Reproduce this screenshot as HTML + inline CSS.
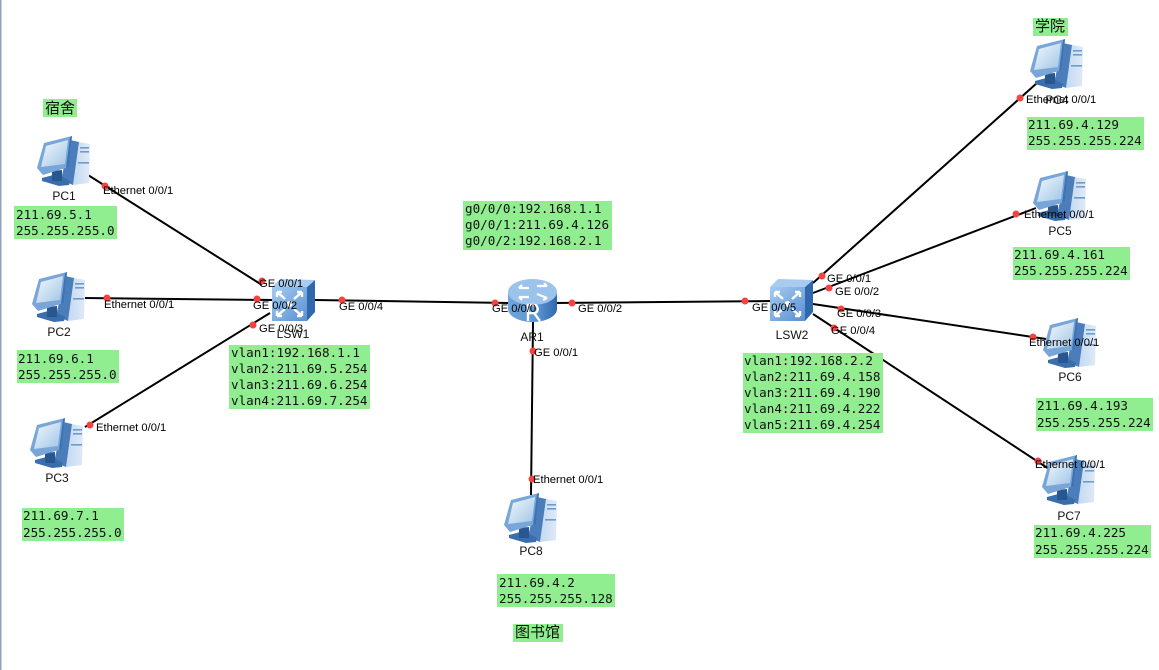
<!DOCTYPE html>
<html>
<head>
<meta charset="utf-8">
<style>
html,body{margin:0;padding:0;background:#fff;width:1159px;height:670px;overflow:hidden}
svg{display:block}
.l{font:11.2px "Liberation Sans",sans-serif;fill:#000}
.n{font:12px "Liberation Sans",sans-serif;fill:#111}
.m{font:12.6px "DejaVu Sans Mono","Liberation Mono",monospace;fill:#111}
.c{font:15px "Liberation Sans","Noto Sans CJK SC",sans-serif;fill:#111}
.g{fill:#90EE90}
.w{stroke:#000;stroke-width:2;fill:none}
.d{fill:#f5433f}
</style>
</head>
<body>
<svg width="1159" height="670" viewBox="0 0 1159 670" xmlns="http://www.w3.org/2000/svg">
<defs>
<linearGradient id="tw" x1="0" x2="1" y1="0" y2="0"><stop offset="0" stop-color="#c3d9f1"/><stop offset="1" stop-color="#dfeaf8"/></linearGradient>
<linearGradient id="sc" x1="0" x2="1" y1="0" y2="1"><stop offset="0" stop-color="#f4f9fd"/><stop offset="1" stop-color="#9fc4e6"/></linearGradient>
<linearGradient id="sw" x1="0" x2="1" y1="0" y2="1"><stop offset="0" stop-color="#a4cbf2"/><stop offset="1" stop-color="#5a90d0"/></linearGradient>
<linearGradient id="ro" x1="0" x2="1" y1="0" y2="0"><stop offset="0" stop-color="#6fa5dc"/><stop offset=".6" stop-color="#5b95d4"/><stop offset="1" stop-color="#2f68ad"/></linearGradient>
<symbol id="pc" viewBox="0 0 53 50" width="53" height="50" overflow="visible">
<polygon points="42,6 53,8 52,47 36,49" fill="url(#tw)"/>
<polygon points="33,4 42,6 36,49 24,44" fill="#4a7dba"/>
<rect x="43" y="11" width="9" height="1.600" fill="#6f9bca"/><rect x="43" y="15" width="9" height="1.600" fill="#6f9bca"/><rect x="41" y="26" width="11" height="1.600" fill="#6f9bca"/>
<polygon points="5,42 20,38 33,45 32,49 22,50 5,45" fill="#3a6dab"/>
<polygon points="15,35 25,34 25,45 15,45" fill="#28568f"/>
<polygon points="0,32 7,7 35,0 32,31 6,39" fill="#78a6d9"/>
<polygon points="33,1 35,0 32,31 29,32" fill="#3f74b4"/>
<polygon points="4,31 9,10 31,4 28,28" fill="url(#sc)"/>
</symbol>
<symbol id="sw1" viewBox="0 0 43 42" width="43" height="42" overflow="visible">
<polygon points="35,8 43,1 43,33 35,42" fill="#2f68ad"/>
<polygon points="0,8 8,0 43,1 35,8" fill="#a8cbef"/>
<rect x="0" y="8" width="35" height="34" fill="url(#sw)"/>
<g stroke="#fff" stroke-width="2.400" fill="none">
<path d="M5 13l8 7M5 13h5M5 13v5M30 13l-8 7M30 13h-5M30 13v5M5 37l8-7M5 37h5M5 37v-5M30 37l-8-7M30 37h-5M30 37v-5"/>
</g>
<circle cx="17.500" cy="25" r="3" fill="#fff"/>
</symbol>
<symbol id="rt" viewBox="0 0 49 44" width="49" height="44" overflow="visible">
<path d="M0 14v17c0 7 11 13 24.500 13s24.500-6 24.500-13V14z" fill="url(#ro)"/>
<ellipse cx="24.500" cy="14" rx="24.500" ry="13" fill="#9cc3ec"/>
<g stroke="#fff" stroke-width="2.200" fill="none">
<path d="M11 10h10M11 10l3-3M29 8h10M39 8l-3-3M21 19H11M11 19l3 3M29 16l10 4M39 20l-4 2"/>
</g>
<path d="M20 43V27h6c5 0 5 8 0 8l6 8M20 35h6" stroke="#fff" stroke-width="2.400" fill="none"/>
</symbol>
</defs>

<rect width="1159" height="670" fill="#fff"/>
<rect x="0" y="0" width="1.500" height="670" fill="#8fa3bd"/>

<!-- links -->
<path class="w" d="M88 175L262 285"/>
<path class="w" d="M85 298L272 300"/>
<path class="w" d="M85 427L270 313"/>
<path class="w" d="M315 300L510 303"/>
<path class="w" d="M555 303L771 301"/>
<path class="w" d="M533 322L531 495"/>
<path class="w" d="M813 283L1037 83"/>
<path class="w" d="M813 293L1036 208"/>
<path class="w" d="M813 304L1046 339"/>
<path class="w" d="M813 314L1049 469"/>

<!-- nodes -->
<use href="#pc" x="37" y="136"/>
<use href="#pc" x="32" y="272"/>
<use href="#pc" x="30" y="418"/>
<use href="#pc" x="1030" y="39"/>
<use href="#pc" x="1033" y="171"/>
<use href="#pc" x="1043" y="318"/>
<use href="#pc" x="1042" y="455"/>
<use href="#pc" x="504" y="493"/>
<use href="#sw1" x="272" y="279"/>
<use href="#sw1" x="770" y="279"/>
<use href="#rt" x="508" y="278"/>

<!-- green boxes -->
<rect class="g" x="43" y="99" width="34" height="18"/>
<rect class="g" x="14" y="206" width="103" height="33"/>
<rect class="g" x="17" y="350" width="102" height="33"/>
<rect class="g" x="22" y="508" width="102" height="33"/>
<rect class="g" x="497" y="574" width="118" height="33"/>
<rect class="g" x="513" y="624" width="50" height="18"/>
<rect class="g" x="229" y="345" width="141" height="64"/>
<rect class="g" x="463" y="201" width="149" height="49"/>
<rect class="g" x="743" y="353" width="140" height="80"/>
<rect class="g" x="1033" y="18" width="35" height="18"/>
<rect class="g" x="1027" y="117" width="117" height="33"/>
<rect class="g" x="1013" y="247" width="117" height="33"/>
<rect class="g" x="1036" y="398" width="117" height="33"/>
<rect class="g" x="1034" y="525" width="117" height="33"/>

<!-- dots -->
<g class="d">
<circle cx="105" cy="186" r="3.500"/><circle cx="262" cy="281" r="3.500"/>
<circle cx="107" cy="298" r="3.500"/><circle cx="257" cy="299" r="3.500"/>
<circle cx="90" cy="425" r="3.500"/><circle cx="253" cy="325" r="3.500"/>
<circle cx="342" cy="300" r="3.500"/><circle cx="495" cy="303" r="3.500"/>
<circle cx="572" cy="303" r="3.500"/><circle cx="745" cy="301" r="3.500"/>
<circle cx="822" cy="276" r="3.500"/><circle cx="829" cy="288" r="3.500"/>
<circle cx="841" cy="309" r="3.500"/><circle cx="834" cy="328" r="3.500"/>
<circle cx="533" cy="351" r="3.500"/><circle cx="532" cy="479" r="3.500"/>
<circle cx="1020" cy="98" r="3.500"/><circle cx="1016" cy="214" r="3.500"/>
<circle cx="1033" cy="337" r="3.500"/><circle cx="1038" cy="461" r="3.500"/>
</g>

<!-- device names -->
<g class="n" text-anchor="middle">
<text x="64" y="200">PC1</text><text x="59" y="336">PC2</text><text x="57" y="482">PC3</text>
<text x="1057" y="104">PC4</text><text x="1060" y="235">PC5</text><text x="1070" y="381">PC6</text>
<text x="1069" y="520">PC7</text><text x="531" y="555">PC8</text>
<text x="293" y="338">LSW1</text><text x="792" y="339">LSW2</text><text x="532" y="341">AR1</text>
</g>

<!-- interface labels -->
<g class="l">
<text x="103" y="194">Ethernet 0/0/1</text>
<text x="104" y="308">Ethernet 0/0/1</text>
<text x="96" y="431">Ethernet 0/0/1</text>
<text x="259" y="287">GE 0/0/1</text>
<text x="253" y="309">GE 0/0/2</text>
<text x="259" y="332">GE 0/0/3</text>
<text x="339" y="310">GE 0/0/4</text>
<text x="492" y="312">GE 0/0/0</text>
<text x="578" y="312">GE 0/0/2</text>
<text x="534" y="356">GE 0/0/1</text>
<text x="533" y="483">Ethernet 0/0/1</text>
<text x="752" y="311">GE 0/0/5</text>
<text x="827" y="282">GE 0/0/1</text>
<text x="835" y="295">GE 0/0/2</text>
<text x="837" y="317">GE 0/0/3</text>
<text x="831" y="334">GE 0/0/4</text>
<text x="1026" y="103">Ethernet 0/0/1</text>
<text x="1024" y="218">Ethernet 0/0/1</text>
<text x="1029" y="346">Ethernet 0/0/1</text>
<text x="1035" y="468">Ethernet 0/0/1</text>
</g>

<!-- mono notes -->
<g class="m">
<text x="16" y="219">211.69.5.1</text><text x="16" y="235">255.255.255.0</text>
<text x="18" y="363">211.69.6.1</text><text x="18" y="379">255.255.255.0</text>
<text x="23" y="520">211.69.7.1</text><text x="23" y="537">255.255.255.0</text>
<text x="499" y="587">211.69.4.2</text><text x="499" y="603">255.255.255.128</text>
<text x="231" y="357">vlan1:192.168.1.1</text><text x="231" y="373">vlan2:211.69.5.254</text><text x="231" y="389">vlan3:211.69.6.254</text><text x="231" y="405">vlan4:211.69.7.254</text>
<text x="465" y="213">g0/0/0:192.168.1.1</text><text x="465" y="229">g0/0/1:211.69.4.126</text><text x="465" y="245">g0/0/2:192.168.2.1</text>
<text x="744" y="365">vlan1:192.168.2.2</text><text x="744" y="381">vlan2:211.69.4.158</text><text x="744" y="397">vlan3:211.69.4.190</text><text x="744" y="413">vlan4:211.69.4.222</text><text x="744" y="429">vlan5:211.69.4.254</text>
<text x="1028" y="129">211.69.4.129</text><text x="1028" y="145">255.255.255.224</text>
<text x="1014" y="259">211.69.4.161</text><text x="1014" y="275">255.255.255.224</text>
<text x="1037" y="410">211.69.4.193</text><text x="1037" y="427">255.255.255.224</text>
<text x="1035" y="537">211.69.4.225</text><text x="1035" y="554">255.255.255.224</text>
</g>

<!-- CJK notes -->
<g class="c">
<text x="45" y="113">宿舍</text>
<text x="1035" y="31">学院</text>
<text x="515" y="637">图书馆</text>
</g>
</svg>
</body>
</html>
